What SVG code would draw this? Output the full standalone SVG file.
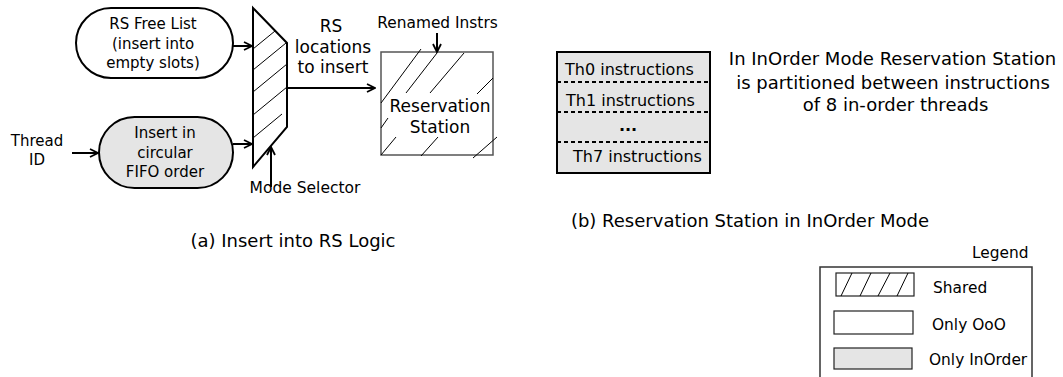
<svg xmlns="http://www.w3.org/2000/svg" width="1063" height="377" viewBox="0 0 1063 377">
<style>
text{font-family:"DejaVu Sans","Liberation Sans",sans-serif;fill:#000}
.c{text-anchor:middle}
.pill{stroke:#000;stroke-width:2}
.white{fill:#fff}
.gray{fill:#e5e5e5}
.hatch{stroke:#000;stroke-width:1;fill:none}
.conn{stroke:#000;stroke-width:2;fill:none;marker-end:url(#arr)}
.sw{stroke:#222;stroke-width:1.2}
</style>
<defs>
<marker id="arr" viewBox="0 0 10 10" refX="9" refY="5" markerWidth="10" markerHeight="10" markerUnits="userSpaceOnUse" orient="auto">
<path d="M1,1 L9,5 L1,9" fill="none" stroke="#000" stroke-width="1.8"/>
</marker>
</defs>
<rect width="1063" height="377" fill="#fff"/>

<g id="free-list">
<rect class="pill white" x="76" y="8" width="157" height="70" rx="35"/>
<text class="c" x="153" y="29" font-size="15">RS Free List</text>
<text class="c" x="153" y="49" font-size="15">(insert into</text>
<text class="c" x="153" y="68" font-size="15">empty slots)</text>
</g>

<g id="fifo">
<rect class="pill gray" x="99" y="117" width="134" height="71" rx="35.5"/>
<text class="c" x="165" y="138" font-size="15">Insert in</text>
<text class="c" x="165" y="158" font-size="15">circular</text>
<text class="c" x="165" y="177" font-size="15">FIFO order</text>
</g>

<g id="thread-id">
<text class="c" x="37" y="146" font-size="15">Thread</text>
<text class="c" x="37" y="165" font-size="15">ID</text>
</g>

<g id="mux">
<path d="M253,8 L287,43 L287,127 L253,167 Z" fill="#fff" stroke="#000" stroke-width="2"/>
<path class="hatch" d="M253,49 L275,31 M253,70 L286,43 M253,92 L287,64 M253,115 L287,87 M253,138 L282,114"/>
</g>

<g id="mode-selector">
<text class="c" x="305" y="193" font-size="15.5">Mode Selector</text>
</g>

<g id="rs-locations">
<text class="c" x="331" y="32" font-size="17">RS</text>
<text class="c" x="333" y="53" font-size="17">locations</text>
<text class="c" x="333" y="73" font-size="17">to insert</text>
</g>

<g id="renamed">
<text class="c" x="437.5" y="28" font-size="15.4">Renamed Instrs</text>
</g>

<g id="reservation-station">
<rect x="381" y="52" width="112" height="103" fill="#fff" stroke="#555" stroke-width="1.5"/>
<path class="hatch" d="M381,103 L421,49 M406,93 L437,53 M430,93 L464,53 M477,94 L493,78 M381,128 L388,118 M381,155 L396,137 M421,156 L438,137 M473,158 L497,137"/>
<text class="c" x="440" y="112" font-size="17">Reservation</text>
<text class="c" x="440" y="133" font-size="17">Station</text>
</g>

<g id="connectors">
<line class="conn" x1="72" y1="153" x2="98" y2="153"/>
<line class="conn" x1="233" y1="46" x2="252" y2="46"/>
<line class="conn" x1="233" y1="144" x2="252" y2="144"/>
<line class="conn" x1="287" y1="88" x2="375" y2="88"/>
<line class="conn" x1="437" y1="33" x2="437" y2="52"/>
<line class="conn" x1="271" y1="187" x2="271" y2="147"/>
</g>

<g id="caption-a">
<text class="c" x="293" y="247" font-size="18">(a) Insert into RS Logic</text>
</g>

<g id="inorder-rs">
<rect x="557" y="52" width="153" height="121" fill="#e5e5e5" stroke="#000" stroke-width="2"/>
<path d="M557,82 H710 M557,112 H710 M557,142 H710" stroke="#000" stroke-width="2" stroke-dasharray="4,3"/>
<text x="565" y="75" font-size="16">Th0 instructions</text>
<text x="566" y="106" font-size="16">Th1 instructions</text>
<text class="c" x="628" y="131" font-size="16" font-weight="bold">...</text>
<text x="573" y="162" font-size="16">Th7 instructions</text>
</g>

<g id="note">
<text class="c" x="892.5" y="65" font-size="18">In InOrder Mode Reservation Station</text>
<text class="c" x="893" y="89" font-size="18">is partitioned between instructions</text>
<text class="c" x="895.5" y="111" font-size="18">of 8 in-order threads</text>
</g>

<g id="caption-b">
<text class="c" x="750" y="227" font-size="18">(b) Reservation Station in InOrder Mode</text>
</g>

<g id="legend">
<text x="972" y="258" font-size="15.4">Legend</text>
<rect x="820" y="267" width="212" height="120" fill="none" stroke="#333" stroke-width="1.5"/>
<rect class="sw" x="836" y="273" width="78" height="23" fill="#fff"/>
<path class="hatch" d="M841,296 L852,273 M860,296 L871,273 M878,296 L890,273 M897,296 L908,273"/>
<text x="933" y="293" font-size="15.4">Shared</text>
<rect class="sw" x="834" y="311" width="79" height="23" fill="#fff"/>
<text x="932" y="330" font-size="15.4">Only OoO</text>
<rect class="sw" x="834" y="348" width="78" height="21" fill="#e5e5e5"/>
<text x="929" y="365" font-size="15.4">Only InOrder</text>
</g>
</svg>
